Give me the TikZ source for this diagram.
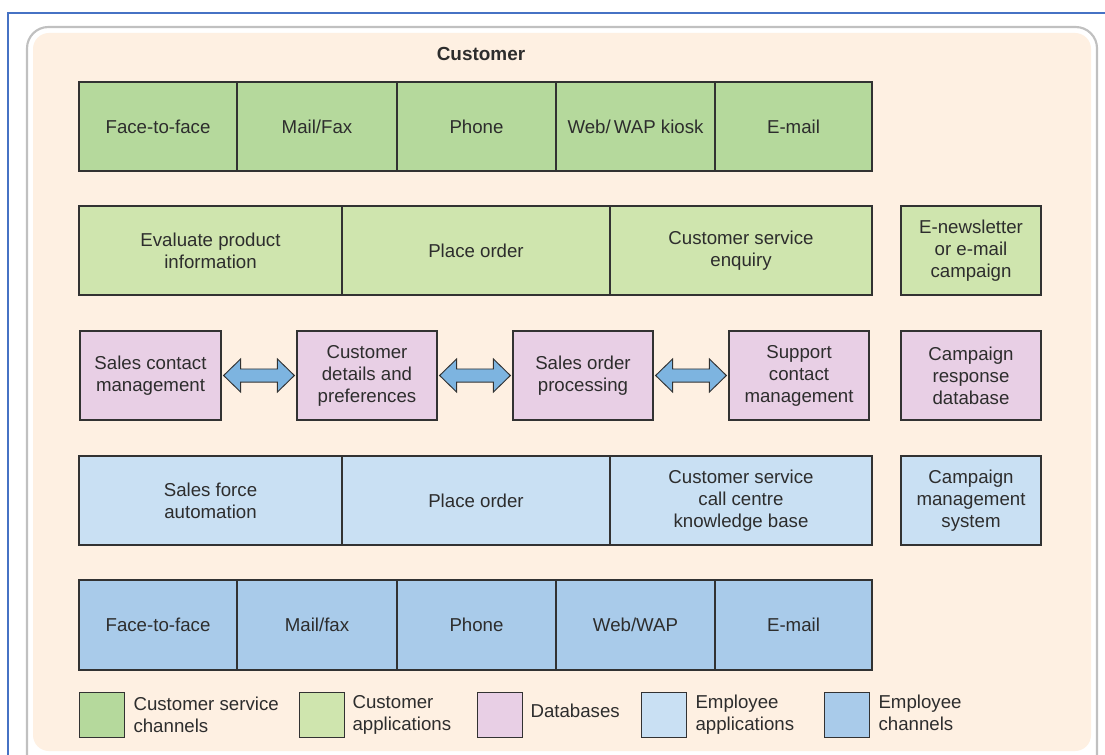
\documentclass[tikz,border=0pt]{standalone}
\usepackage{fontspec}
\setmainfont{Liberation Sans}
\usetikzlibrary{calc}

\definecolor{frameblue}{RGB}{70,114,196}
\definecolor{panelgray}{RGB}{192,192,192}
\definecolor{panelfill}{RGB}{254,240,226}
\definecolor{chgreen}{RGB}{181,217,156}
\definecolor{appgreen}{RGB}{207,229,174}
\definecolor{dbpink}{RGB}{232,207,229}
\definecolor{empapp}{RGB}{201,224,243}
\definecolor{empch}{RGB}{169,203,234}
\definecolor{arrowblue}{RGB}{125,180,224}
\definecolor{ink}{RGB}{45,45,45}
\definecolor{edge}{RGB}{50,50,50}

\tikzset{
  cell/.style={draw=edge, line width=0.9pt, rectangle, inner sep=0pt, align=center,
    text=ink, font=\fontsize{14}{16.5}\selectfont},
  keybox/.style={draw=edge, line width=0.9pt, rectangle, inner sep=0pt,
    minimum width=34pt, minimum height=34pt},
  keytext/.style={anchor=west, align=left, inner sep=0pt, text=ink,
    font=\fontsize{14}{16.5}\selectfont},
  linkarrowstyle/.style={draw=edge, line width=0.7pt, fill=arrowblue, line join=miter},
}

% a boxed cell given by its pixel corners
\newcommand\cell[7]{%
  \node[cell, fill=#6, minimum width={(#4-#2)*0.75pt}, minimum height={(#5-#3)*0.75pt}]
    (#1) at ({(#2+#4)/2},{(#3+#5)/2}) {#7};}

% two-headed block arrow between two nodes
\newcommand\linkarrow[2]{%
  \draw[linkarrowstyle] let \p1=($(#1.east)+(2,0)$), \p2=($(#2.west)+(-2,0)$) in
    (\p1) -- (\x1+12.75pt,\y1+12.4pt) -- (\x1+12.75pt,\y1+4.9pt)
    -- (\x2-12.75pt,\y2+4.9pt) -- (\x2-12.75pt,\y2+12.4pt) -- (\p2)
    -- (\x2-12.75pt,\y2-12.4pt) -- (\x2-12.75pt,\y2-4.9pt)
    -- (\x1+12.75pt,\y1-4.9pt) -- (\x1+12.75pt,\y1-12.4pt) -- cycle;}

\begin{document}
\begin{tikzpicture}[x=0.75pt, y=-0.75pt]
\useasboundingbox (0,0) rectangle (1105,755);
\clip (0,0) rectangle (1105,755);
\fill[white] (0,0) rectangle (1105,755);

% outer frame and background panel
\draw[frameblue, line width=1.5pt] (8,800) -- (8,13) -- (1200,13);
\draw[panelgray, line width=1.6pt, fill=white, rounded corners=16pt] (27,27) rectangle (1097,820);
\fill[panelfill, rounded corners=12pt] (33,33) rectangle (1091,751);

\node[font=\bfseries\fontsize{14.2}{16}\selectfont, text=ink] (cust) at (481,54) {Customer};

% customer service channels
\cell{cf}{79}{82}{237}{171}{chgreen}{Face-to-face}
\cell{cm}{237}{82}{397}{171}{chgreen}{Mail/Fax}
\cell{cp}{397}{82}{556}{171}{chgreen}{Phone}
\cell{cw}{556}{82}{715}{171}{chgreen}{Web/\,WAP kiosk}
\cell{ce}{715}{82}{872}{171}{chgreen}{E-mail}

% customer applications
\cell{ap1}{79}{206}{342}{295}{appgreen}{Evaluate product\\information}
\cell{ap2}{342}{206}{610}{295}{appgreen}{Place order}
\cell{ap3}{610}{206}{872}{295}{appgreen}{Customer service\\enquiry}
\cell{news}{901}{206}{1041}{295}{appgreen}{E-newsletter\\or e-mail\\campaign}

% databases
\cell{db1}{80}{331}{221}{420}{dbpink}{Sales contact\\management}
\cell{db2}{297}{331}{437}{420}{dbpink}{Customer\\details and\\preferences}
\cell{db3}{513}{331}{653}{420}{dbpink}{Sales order\\processing}
\cell{db4}{729}{331}{869}{420}{dbpink}{Support\\contact\\management}
\cell{db5}{901}{331}{1041}{420}{dbpink}{Campaign\\response\\database}

\linkarrow{db1}{db2}
\linkarrow{db2}{db3}
\linkarrow{db3}{db4}

% employee applications
\cell{ea1}{79}{456}{342}{545}{empapp}{Sales force\\automation}
\cell{ea2}{342}{456}{610}{545}{empapp}{Place order}
\cell{ea3}{610}{456}{872}{545}{empapp}{Customer service\\call centre\\knowledge base}
\cell{cms}{901}{456}{1041}{545}{empapp}{Campaign\\management\\system}

% employee channels
\cell{ef}{79}{580}{237}{670}{empch}{Face-to-face}
\cell{em}{237}{580}{397}{670}{empch}{Mail/fax}
\cell{ep}{397}{580}{556}{670}{empch}{Phone}
\cell{ew}{556}{580}{715}{670}{empch}{Web/WAP}
\cell{ee}{715}{580}{872}{670}{empch}{E-mail}

% key
\node[keybox, fill=chgreen] (k1) at (102,715) {};
\node[keytext] (t1) at ($(k1.east)+(8,0)$) {Customer service\\channels};
\node[keybox, fill=appgreen] (k2) at (322,715) {};
\node[keytext] (t2) at ($(k2.east)+(7,0)$) {Customer\\applications};
\node[keybox, fill=dbpink] (k3) at (500,715) {};
\node[keytext] (t3) at ($(k3.east)+(7,-4)$) {Databases};
\node[keybox, fill=empapp] (k4) at (664,715) {};
\node[keytext] (t4) at ($(k4.east)+(8,0)$) {Employee\\applications};
\node[keybox, fill=empch] (k5) at (847,715) {};
\node[keytext] (t5) at ($(k5.east)+(8,-2)$) {Employee\\channels};
\end{tikzpicture}
\end{document}
